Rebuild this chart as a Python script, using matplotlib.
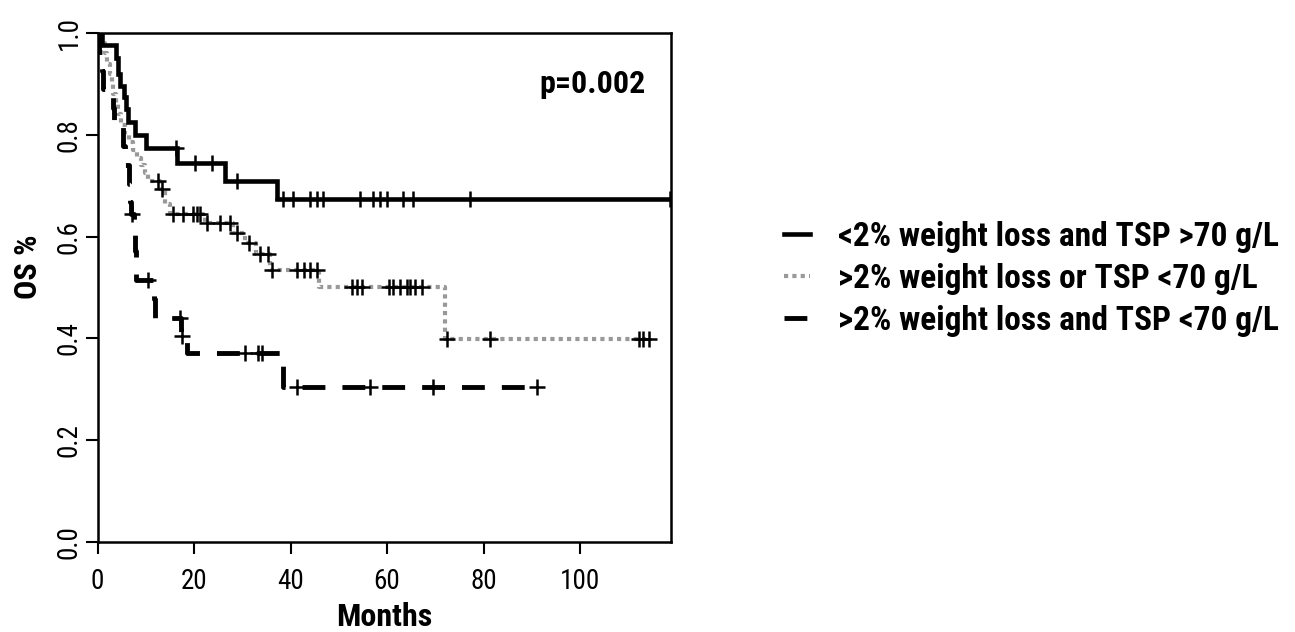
import numpy as np
import matplotlib.pyplot as plt
from matplotlib import font_manager

# Kaplan-Meier curves: step times (months) and survival
t_good = [0, 1.0, 3.8, 4.2, 4.6, 5.4, 6.0, 6.4, 7.8, 10.0, 16.4, 26.4, 37.1]
s_good = [1.0, 0.976, 0.95, 0.92, 0.895, 0.875, 0.85, 0.825, 0.80, 0.775, 0.745, 0.71, 0.673]
c_good = [16.2, 20.2, 23.7, 28.8, 38.5, 40.6, 44.0, 45.4, 46.8, 54.4, 57.1, 58.5,
          59.9, 63.3, 65.4, 77.2, 118.6]

t_mid = [0, 0.8, 1.5, 2.0, 2.5, 2.9, 3.3, 3.8, 4.3, 4.8, 5.6, 6.5, 7.3, 8.2, 9.0,
         9.8, 10.5, 13.0, 14.0, 15.0, 22.2, 28.1, 30.6, 32.8, 35.8, 45.8, 72.0]
s_mid = [1.0, 0.98, 0.96, 0.94, 0.92, 0.90, 0.88, 0.86, 0.84, 0.82, 0.80, 0.785,
         0.77, 0.755, 0.74, 0.725, 0.71, 0.693, 0.665, 0.645, 0.627, 0.607, 0.588,
         0.565, 0.535, 0.50, 0.398]
c_mid = [12.5, 13.3, 15.6, 17.7, 19.8, 20.6, 21.2, 22.6, 25.4, 27.5, 28.8, 31.3,
         33.7, 35.3, 36.1, 41.3, 42.7, 44.0, 45.5, 52.7, 53.7, 54.8, 60.3, 61.3,
         62.7, 64.1, 64.8, 65.8, 67.2, 72.4, 81.3, 112.1, 113.1, 114.2]

t_bad = [0, 0.4, 0.9, 1.1, 3.3, 3.5, 5.3, 5.6, 6.5, 6.7, 7.0, 7.6, 7.8, 8.0,
         11.8, 12.0, 17.2, 18.5, 38.5]
s_bad = [1.0, 0.963, 0.926, 0.889, 0.852, 0.815, 0.778, 0.741, 0.704, 0.667, 0.645,
         0.608, 0.571, 0.514, 0.477, 0.44, 0.405, 0.372, 0.305]
c_bad = [7.1, 10.5, 17.0, 17.4, 30.6, 33.3, 34.0, 41.3, 56.5, 69.6, 91.0]

labels = ['<2% weight loss and TSP >70 g/L',
          '>2% weight loss or TSP <70 g/L',
          '>2% weight loss and TSP <70 g/L']

x_ticks = [0, 20, 40, 60, 80, 100]
y_ticks = [0.0, 0.2, 0.4, 0.6, 0.8, 1.0]

# pick a narrow sans if one is installed, otherwise Arial-like Liberation Sans
installed = {f.name for f in font_manager.fontManager.ttflist}
narrow = None
for name in ['Liberation Sans Narrow', 'DejaVu Sans Condensed', 'Roboto Condensed']:
    if name in installed:
        narrow = name
        break
if narrow:
    FONT = [narrow, 'DejaVu Sans']
    scale = 1.0
else:
    FONT = ['Liberation Sans', 'DejaVu Sans']
    scale = 0.82
plt.rcParams['font.family'] = FONT


def km_curve(ax, times, surv, cens, **style):
    times = np.asarray(times)
    surv = np.asarray(surv)
    cens = np.asarray(cens)
    end = max(times.max(), cens.max())
    x = np.append(times, end)
    y = np.append(surv, surv[-1])
    line, = ax.step(x, y, where='post', **style)
    idx = np.searchsorted(times, cens, side='right') - 1
    ax.plot(cens, surv[idx], linestyle='none', marker='+', color='black',
            markersize=11, markeredgewidth=1.8, zorder=4)
    return line


fig = plt.figure(figsize=(12.95, 6.32), dpi=100)
ax = fig.add_axes([0.0753, 0.1424, 0.4428, 0.8054])

l1 = km_curve(ax, t_good, s_good, c_good, color='black', lw=3.3,
              solid_joinstyle='miter', label=labels[0], zorder=3)
l2 = km_curve(ax, t_mid, s_mid, c_mid, color='#999999', lw=3.0,
              linestyle=(0, (1, 1)), dash_capstyle='butt', label=labels[1], zorder=2)
l3 = km_curve(ax, t_bad, s_bad, c_bad, color='black', lw=3.5,
              linestyle=(0, (4.7, 3.5)), dash_capstyle='butt', label=labels[2], zorder=3)

ax.set_xlim(0, 118.8)
ax.set_ylim(0, 1.0)
ax.set_xticks(x_ticks)
ax.set_yticks(y_ticks)
ax.set_yticklabels([f'{v:.1f}' for v in y_ticks], rotation=90, va='center')
ax.tick_params(direction='out', length=8.5, width=1.5, labelsize=19.5 * scale)
ax.tick_params(axis='x', pad=10)
ax.tick_params(axis='y', pad=2)
for sp in ax.spines.values():
    sp.set_linewidth(1.8)

ax.set_xlabel('Months', fontsize=23 * scale, fontweight='bold', va='top')
ax.xaxis.set_label_coords(0.5, -0.118)
ax.set_ylabel('OS %', fontsize=23 * scale, fontweight='bold')
ax.yaxis.set_label_coords(-0.095, 0.54)

ax.text(0.955, 0.9, 'p=0.002', transform=ax.transAxes, ha='right', va='center',
        fontsize=23 * scale, fontweight='bold')

fig.legend(handles=[l1, l2, l3], loc='center left',
           bbox_to_anchor=(784 / 1295, 1 - 279 / 632),
           frameon=False, handlelength=0.78, handletextpad=0.85,
           labelspacing=0.3, borderpad=0, borderaxespad=0,
           prop={'family': FONT, 'weight': 'bold', 'size': 24 * scale})

fig.savefig('out.png', dpi=100)
